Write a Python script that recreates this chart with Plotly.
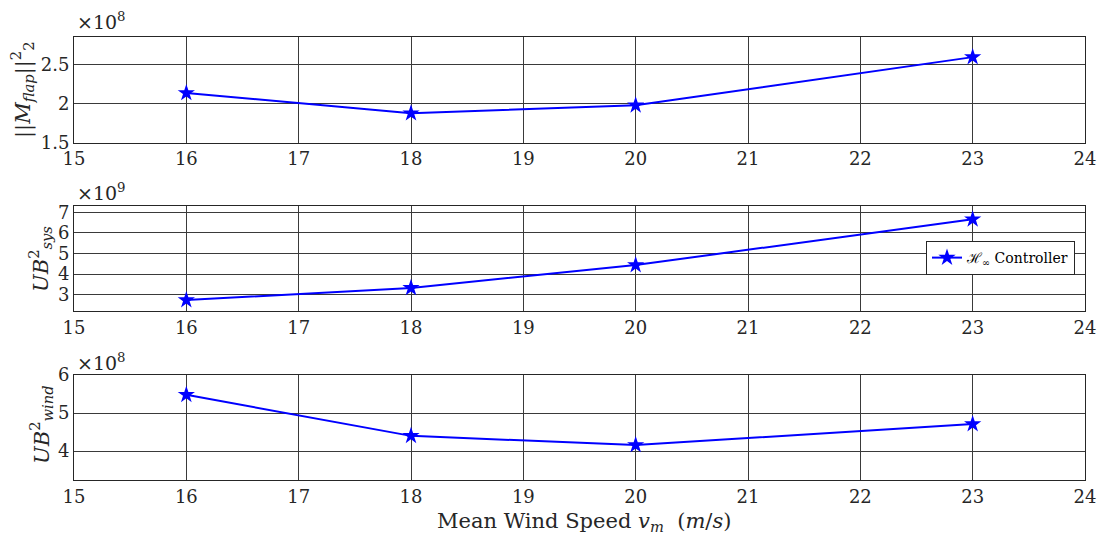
import plotly.graph_objects as go
from plotly.subplots import make_subplots

# Mean wind speed operating points (m/s)
wind_speed = [16, 18, 20, 23]

# Squared 2-norm of flap bending moment (x 1e8)
m_flap = [2.135, 1.876, 1.978, 2.593]
# Upper bound, system part (x 1e9)
ub_sys = [2.74, 3.33, 4.44, 6.66]
# Upper bound, wind part (x 1e8)
ub_wind = [5.48, 4.40, 4.16, 4.71]

x_ticks = [15, 16, 17, 18, 19, 20, 21, 22, 23, 24]
exponents = ["8", "9", "8"]

W, H = 1104, 538
ML, MR, MT, MB = 74, 19, 37, 58
PW, PH = W - ML - MR, H - MT - MB

def px(x):
    return (x - ML) / PW

def py(y):
    return (H - MB - y) / PH

FONT = "DejaVu Serif"
TXT = "#262626"
BLUE = "#0000ff"
GRID = "#3a3a3a"

fig = make_subplots(rows=3, cols=1, shared_xaxes=False, vertical_spacing=0.05)

series = [m_flap, ub_sys, ub_wind]
for i, vals in enumerate(series, start=1):
    fig.add_trace(
        go.Scatter(
            x=wind_speed, y=vals, mode="lines+markers",
            line=dict(color=BLUE, width=2),
            marker=dict(symbol="star", size=13, color=BLUE),
            name="ℋ<sub>∞</sub> Controller",
            showlegend=(i == 2),
        ),
        row=i, col=1,
    )

domains = [(py(142.7), py(37)), (py(311), py(206.3)), (0.0, py(375))]
yranges = [(1.5, 2.85), (2.21, 7.29), (3.24, 6.0)]
ytick_sets = [
    ([1.5, 2, 2.5], ["1.5", "2", "2.5"]),
    ([3, 4, 5, 6, 7], ["3", "4", "5", "6", "7"]),
    ([4, 5, 6], ["4", "5", "6"]),
]

axis_common = dict(
    showline=True, linecolor=TXT, linewidth=1, mirror=True,
    showgrid=True, gridcolor=GRID, gridwidth=1,
    zeroline=False, ticks="", automargin=False,
    tickfont=dict(family=FONT, size=18, color=TXT),
)

for i in range(3):
    n = "" if i == 0 else str(i + 1)
    fig.layout["xaxis" + n].update(
        range=[15, 24], tickvals=x_ticks, **axis_common
    )
    fig.layout["yaxis" + n].update(
        domain=list(domains[i]), range=list(yranges[i]),
        tickvals=ytick_sets[i][0], ticktext=ytick_sets[i][1], **axis_common
    )

annotations = []
# Exponent labels above each panel
for y_pix, e in zip([21, 192, 362], exponents):
    annotations.append(dict(
        x=px(75), y=py(y_pix), xref="paper", yref="paper",
        xanchor="left", yanchor="middle", showarrow=False,
        text="×10<sup>" + e + "</sup>",
        font=dict(family=FONT, size=19, color=TXT),
    ))

# Y axis titles
ytitles = [
    ("||<i>M</i><sub><i>flap</i></sub>||<sup>2</sup><sub>2</sub>", 22, 90),
    ("<i>UB</i><sup>2</sup><sub><i>sys</i></sub>", 40, 259),
    ("<i>UB</i><sup>2</sup><sub><i>wind</i></sub>", 41, 425),
]
for text, x_pix, y_pix in ytitles:
    annotations.append(dict(
        x=px(x_pix), y=py(y_pix), xref="paper", yref="paper",
        xanchor="center", yanchor="middle", showarrow=False,
        text=text, textangle=-90,
        font=dict(family=FONT, size=21, color=TXT),
    ))

# X axis title
annotations.append(dict(
    x=px(584), y=py(522), xref="paper", yref="paper",
    xanchor="center", yanchor="middle", showarrow=False,
    text="Mean Wind Speed <i>v</i><sub><i>m</i></sub>  (<i>m</i>/<i>s</i>)",
    font=dict(family=FONT, size=21, color=TXT),
))

fig.update_layout(
    width=W, height=H,
    font=dict(family=FONT, color=TXT),
    margin=dict(l=ML, r=MR, t=MT, b=MB),
    paper_bgcolor="white", plot_bgcolor="white",
    annotations=annotations,
    legend=dict(
        x=px(1075), y=py(258), xanchor="right", yanchor="middle",
        xref="paper", yref="paper",
        bgcolor="white", bordercolor=TXT, borderwidth=1,
        font=dict(family=FONT, size=14, color="#000"),
        itemwidth=30, tracegroupgap=0,
    ),
)

fig.write_html("out.html")
